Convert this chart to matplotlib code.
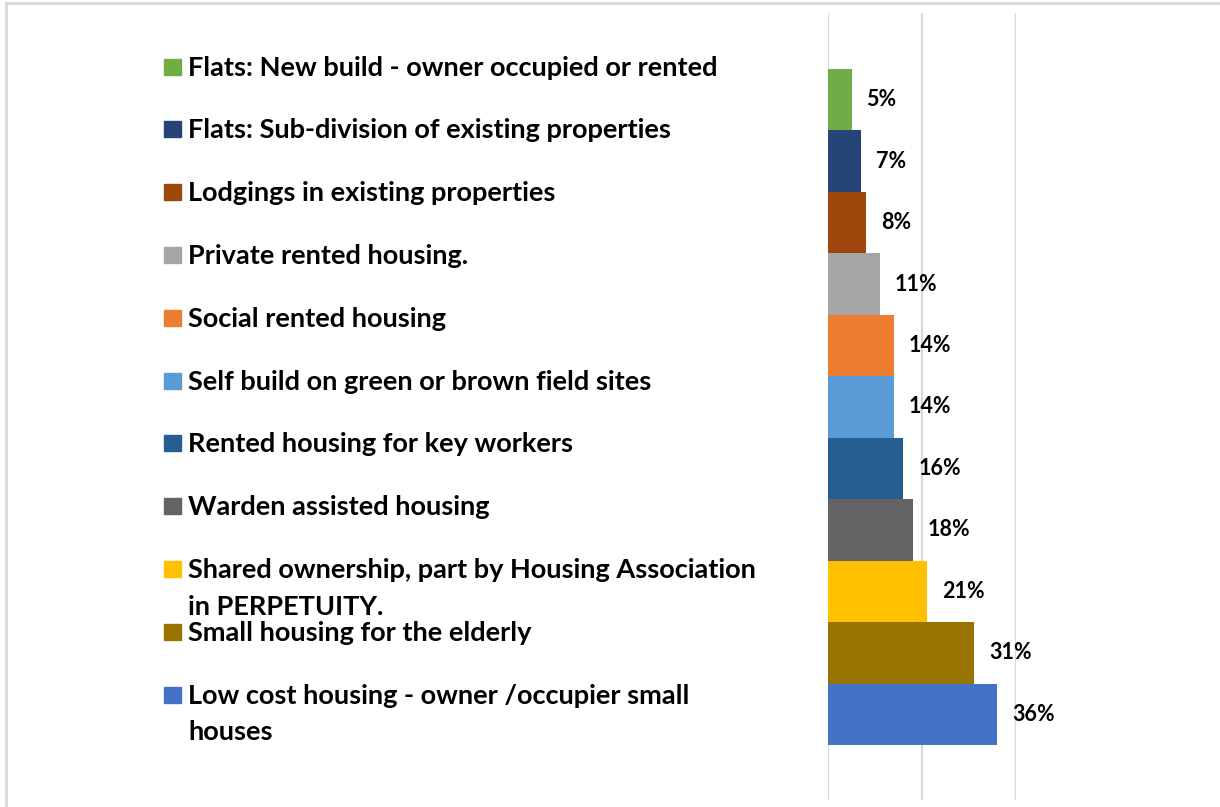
import matplotlib.pyplot as plt
import matplotlib.patches as mpatches
from matplotlib.lines import Line2D

categories = [
    "Flats: New build - owner occupied or rented",
    "Flats: Sub-division of existing properties",
    "Lodgings in existing properties",
    "Private rented housing.",
    "Social rented housing",
    "Self build on green or brown field sites",
    "Rented housing for key workers",
    "Warden assisted housing",
    "Shared ownership, part by Housing Association\nin PERPETUITY.",
    "Small housing for the elderly",
    "Low cost housing - owner /occupier small\nhouses",
]
values = [5, 7, 8, 11, 14, 14, 16, 18, 21, 31, 36]
colors = ["#70AD47", "#264478", "#9E480E", "#A5A5A5", "#ED7D31", "#5B9BD5",
          "#255E91", "#636363", "#FFC000", "#997300", "#4472C4"]

W, H = 1220, 807
fig = plt.figure(figsize=(W / 100, H / 100), dpi=100)

ax = fig.add_axes([828 / W, 1 - 800 / H, (1016.3 - 828) / W, (800 - 13.3) / H])
pos = list(range(len(values)))
bars = ax.barh(pos, values, height=1.0, color=colors, zorder=2)
ax.set_xlim(0, 40)
ax.set_ylim(11.395, -1.406)
ax.set_xticks([0, 20, 40])
ax.grid(axis="x", color="#D9D9D9", lw=1.6, zorder=0)
ax.tick_params(left=False, bottom=False, labelleft=False, labelbottom=False)
for s in ax.spines.values():
    s.set_visible(False)

for b, v in zip(bars, values):
    ax.annotate(f"{v}%", (b.get_width(), b.get_y() + b.get_height() / 2),
                xytext=(15, 0), textcoords="offset pixels", ha="left", va="center",
                fontsize=15.5, fontweight="bold", family="Lato", color="black")

# legend drawn by hand to keep Excel's even spacing
for i, (lab, c) in enumerate(zip(categories, colors)):
    yc = 66.5 + 62.8 * i
    fig.add_artist(mpatches.Rectangle((164 / W, 1 - (yc + 8) / H), 17 / W, 16 / H,
                                      transform=fig.transFigure, color=c))
    for j, line in enumerate(lab.split("\n")):
        fig.text(188 / W, 1 - (yc + 9 + 37 * j) / H, line, ha="left", va="baseline",
                 fontsize=19.5, fontweight="bold", family="Lato")

# chart border (top and left edges visible)
fig.add_artist(Line2D([6 / W, 6 / W], [0, 1 - 3 / H], transform=fig.transFigure,
                      color="#D9D9D9", lw=2))
fig.add_artist(Line2D([6 / W, 1], [1 - 3 / H, 1 - 3 / H], transform=fig.transFigure,
                      color="#D9D9D9", lw=2))

fig.savefig("out.png", dpi=100)
